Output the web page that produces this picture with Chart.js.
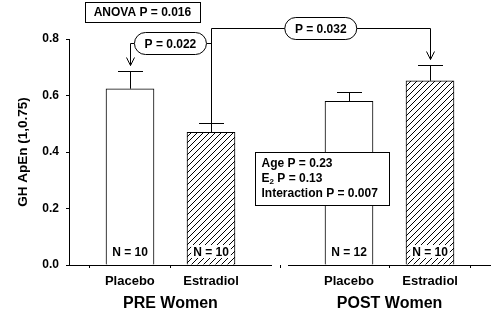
<!DOCTYPE html>
<html>
<head>
<meta charset="utf-8">
<script src="https://cdn.jsdelivr.net/npm/chart.js@4.4.0/dist/chart.umd.min.js"></script>
<style>
html, body { margin: 0; padding: 0; background: #fff; }
</style>
</head>
<body>
<canvas id="ghChart" width="504" height="310"></canvas>
<script>
// data
var groups = ["PRE Women", "POST Women"];
var treatments = ["Placebo", "Estradiol"];
var means = [0.624, 0.470, 0.579, 0.652];
var sems = [0.063, 0.032, 0.033, 0.055];
var counts = [10, 10, 12, 10];
var yTicks = [0, 0.2, 0.4, 0.6, 0.8];
var anovaText = "ANOVA P = 0.016";
var pairP = ["P = 0.022", "P = 0.032"];
var statLines = [["Age", "", " P = 0.23"], ["E", "2", " P = 0.13"], ["Interaction", "", " P = 0.007"]];

// layout in x units: each group spans 1, groups split by a small gap
var groupGap = 0.08;
var barOffsets = [0.3, 0.7];
var barX = [];
groups.forEach(function (g, gi) {
  barOffsets.forEach(function (o) { barX.push(gi * (1 + groupGap) + o); });
});

var FONT = '"Liberation Sans", Arial, sans-serif';

var canvas = document.getElementById('ghChart');
var mainCtx = canvas.getContext('2d');

function makeHatch() {
  var c = document.createElement('canvas');
  c.width = 6; c.height = 6;
  var g = c.getContext('2d');
  g.fillStyle = '#fff';
  g.fillRect(0, 0, 6, 6);
  g.strokeStyle = '#000';
  g.lineWidth = 1;
  g.beginPath();
  g.moveTo(0, 6); g.lineTo(6, 0);
  g.moveTo(-1, 1); g.lineTo(1, -1);
  g.moveTo(5, 7); g.lineTo(7, 5);
  g.stroke();
  return mainCtx.createPattern(c, 'repeat');
}
var hatch = makeHatch();

function seg(ctx, x0, y0, x1, y1) {
  ctx.beginPath();
  ctx.moveTo(x0, y0);
  ctx.lineTo(x1, y1);
  ctx.stroke();
}
function px(v) { return Math.round(v) + 0.5; }

function pill(ctx, cx, cy, w, h, text) {
  var r = h / 2, l = cx - w / 2, t = cy - h / 2;
  ctx.beginPath();
  ctx.moveTo(l + r, t);
  ctx.lineTo(l + w - r, t);
  ctx.arc(l + w - r, cy, r, -Math.PI / 2, Math.PI / 2);
  ctx.lineTo(l + r, t + h);
  ctx.arc(l + r, cy, r, Math.PI / 2, Math.PI * 1.5);
  ctx.closePath();
  ctx.fillStyle = '#fff';
  ctx.fill();
  ctx.stroke();
  ctx.fillStyle = '#000';
  ctx.textAlign = 'center';
  ctx.textBaseline = 'middle';
  ctx.fillText(text, cx, cy + 1);
}

function arrowDown(ctx, x, yFrom, yTip) {
  seg(ctx, x, yFrom, x, yTip);
  ctx.beginPath();
  ctx.moveTo(x - 4, yTip - 8);
  ctx.lineTo(x, yTip);
  ctx.lineTo(x + 4, yTip - 8);
  ctx.stroke();
}

var decor = {
  id: 'decor',
  beforeDatasetsDraw: function (chart) {
    // keep bar edges on whole pixels so the outlines stay crisp
    chart.getDatasetMeta(0).data.forEach(function (b) { b.x = Math.round(b.x); });
  },
  afterDatasetsDraw: function (chart) {
    var ctx = chart.ctx, xs = chart.scales.x, ys = chart.scales.y;
    var bars = chart.getDatasetMeta(0).data;
    var y0 = px(ys.getPixelForValue(0));
    ctx.save();
    ctx.strokeStyle = '#000';
    ctx.lineWidth = 1;

    // broken x axis, one piece per group
    groups.forEach(function (g, gi) {
      var a = gi * (1 + groupGap);
      seg(ctx, Math.round(xs.getPixelForValue(a)), y0, Math.round(xs.getPixelForValue(a + 1)), y0);
    });

    // error bars
    var tops = [];
    bars.forEach(function (b, i) {
      var x = px(b.x);
      var yt = px(ys.getPixelForValue(means[i] + sems[i]));
      tops.push(yt);
      seg(ctx, x, b.y, x, yt);
      seg(ctx, x - 12.5, yt, x + 12.5, yt);
    });

    // N labels
    ctx.font = 'bold 12px ' + FONT;
    ctx.textAlign = 'center';
    ctx.textBaseline = 'middle';
    bars.forEach(function (b, i) {
      var t = 'N = ' + counts[i];
      var yy = ys.getPixelForValue(0.046);
      if (i % 2 === 1) {
        var w = ctx.measureText(t).width + 4;
        ctx.fillStyle = '#fff';
        ctx.fillRect(b.x - w / 2, yy - 7, w, 13);
      }
      ctx.fillStyle = '#000';
      ctx.fillText(t, b.x, yy + 1);
    });

    // comparison brackets
    var p1x = xs.getPixelForValue(0.5), p1y = px(ys.getPixelForValue(0.787));
    var p2x = xs.getPixelForValue(1.241), p2y = px(ys.getPixelForValue(0.84));
    var bx0 = px(bars[0].x), bx1 = px(bars[1].x), bx3 = px(bars[3].x);
    seg(ctx, bx0, p1y, p1x - 36, p1y);
    arrowDown(ctx, bx0, p1y, tops[0] - 6);
    seg(ctx, p1x + 36, p1y, bx1, p1y);
    seg(ctx, bx1, tops[1], bx1, p2y);
    seg(ctx, bx1, p2y, bx3, p2y);
    arrowDown(ctx, bx3, p2y, tops[3] - 6);
    ctx.font = 'bold 12px ' + FONT;
    pill(ctx, p1x, p1y, 72, 22, pairP[0]);
    pill(ctx, p2x, p2y, 72, 22, pairP[1]);

    // ANOVA box
    var ax = xs.getPixelForValue(0.362), ay = ys.getPixelForValue(0.897);
    ctx.fillStyle = '#fff';
    ctx.fillRect(px(ax - 57.5), px(ay - 10), 115, 20);
    ctx.strokeRect(px(ax - 57.5), px(ay - 10), 115, 20);
    ctx.fillStyle = '#000';
    ctx.textAlign = 'center';
    ctx.fillText(anovaText, ax, ay + 1);

    // two-way stats box
    var sx = px(xs.getPixelForValue(0.916)), sy = px(ys.getPixelForValue(0.401));
    ctx.fillStyle = '#fff';
    ctx.fillRect(sx, sy, 134, 53);
    ctx.strokeRect(sx, sy, 134, 53);
    ctx.fillStyle = '#000';
    ctx.textAlign = 'left';
    statLines.forEach(function (ln, i) {
      var tx = sx + 6, ty = sy + 11.5 + i * 15;
      ctx.font = 'bold 12px ' + FONT;
      ctx.fillText(ln[0], tx, ty);
      tx += ctx.measureText(ln[0]).width;
      if (ln[1]) {
        ctx.font = 'bold 8px ' + FONT;
        ctx.fillText(ln[1], tx, ty + 3);
        tx += ctx.measureText(ln[1]).width;
        ctx.font = 'bold 12px ' + FONT;
      }
      ctx.fillText(ln[2], tx, ty);
    });
    ctx.restore();
  }
};

new Chart(canvas, {
  type: 'bar',
  data: {
    datasets: [{
      data: means.map(function (m, i) { return { x: barX[i], y: m }; }),
      backgroundColor: means.map(function (m, i) { return i % 2 ? hatch : '#fff'; }),
      borderColor: '#000',
      borderWidth: 1,
      borderSkipped: 'bottom',
      barThickness: 48
    }]
  },
  options: {
    responsive: false,
    animation: false,
    layout: { padding: { top: 39, right: 13, left: 0, bottom: 0 } },
    plugins: { legend: { display: false }, tooltip: { enabled: false } },
    scales: {
      x: {
        type: 'linear',
        position: 'bottom',
        weight: 0,
        offset: false,
        min: 0,
        max: 2 + groupGap,
        afterBuildTicks: function (s) { s.ticks = barX.map(function (v) { return { value: v }; }); },
        afterFit: function (s) { s.height = 26; },
        ticks: {
          autoSkip: false,
          maxRotation: 0,
          padding: 6,
          color: '#000',
          font: { family: FONT, size: 13, weight: 'bold' },
          callback: function (v, i) { return treatments[i % 2]; }
        },
        grid: { display: true, drawOnChartArea: false, drawTicks: true, tickLength: 3, color: '#000' },
        border: { display: false }
      },
      grp: {
        type: 'linear',
        axis: 'x',
        position: 'bottom',
        weight: 1,
        offset: false,
        min: 0,
        max: 2 + groupGap,
        afterBuildTicks: function (s) {
          s.ticks = groups.map(function (g, gi) { return { value: gi * (1 + groupGap) + 0.5 }; });
        },
        afterFit: function (s) { s.height = 19; },
        ticks: {
          autoSkip: false,
          maxRotation: 0,
          padding: 3,
          color: '#000',
          font: { family: FONT, size: 16, weight: 'bold' },
          callback: function (v, i) { return groups[i]; }
        },
        grid: { display: false, drawTicks: false },
        border: { display: false }
      },
      y: {
        min: 0,
        max: 0.8,
        afterBuildTicks: function (s) { s.ticks = yTicks.map(function (v) { return { value: v }; }); },
        afterFit: function (s) { s.width = 69; },
        ticks: {
          padding: 7,
          color: '#000',
          font: { family: FONT, size: 12, weight: 'bold' },
          callback: function (v) { return v.toFixed(1); }
        },
        grid: { drawOnChartArea: false, tickLength: 3, color: '#000' },
        border: { color: '#000', width: 1 },
        title: {
          display: true,
          text: 'GH ApEn (1,0.75)',
          color: '#000',
          font: { family: FONT, size: 13.5, weight: 'bold' },
          padding: { top: 15, bottom: 0 }
        }
      }
    }
  },
  plugins: [decor]
});
</script>
</body>
</html>
